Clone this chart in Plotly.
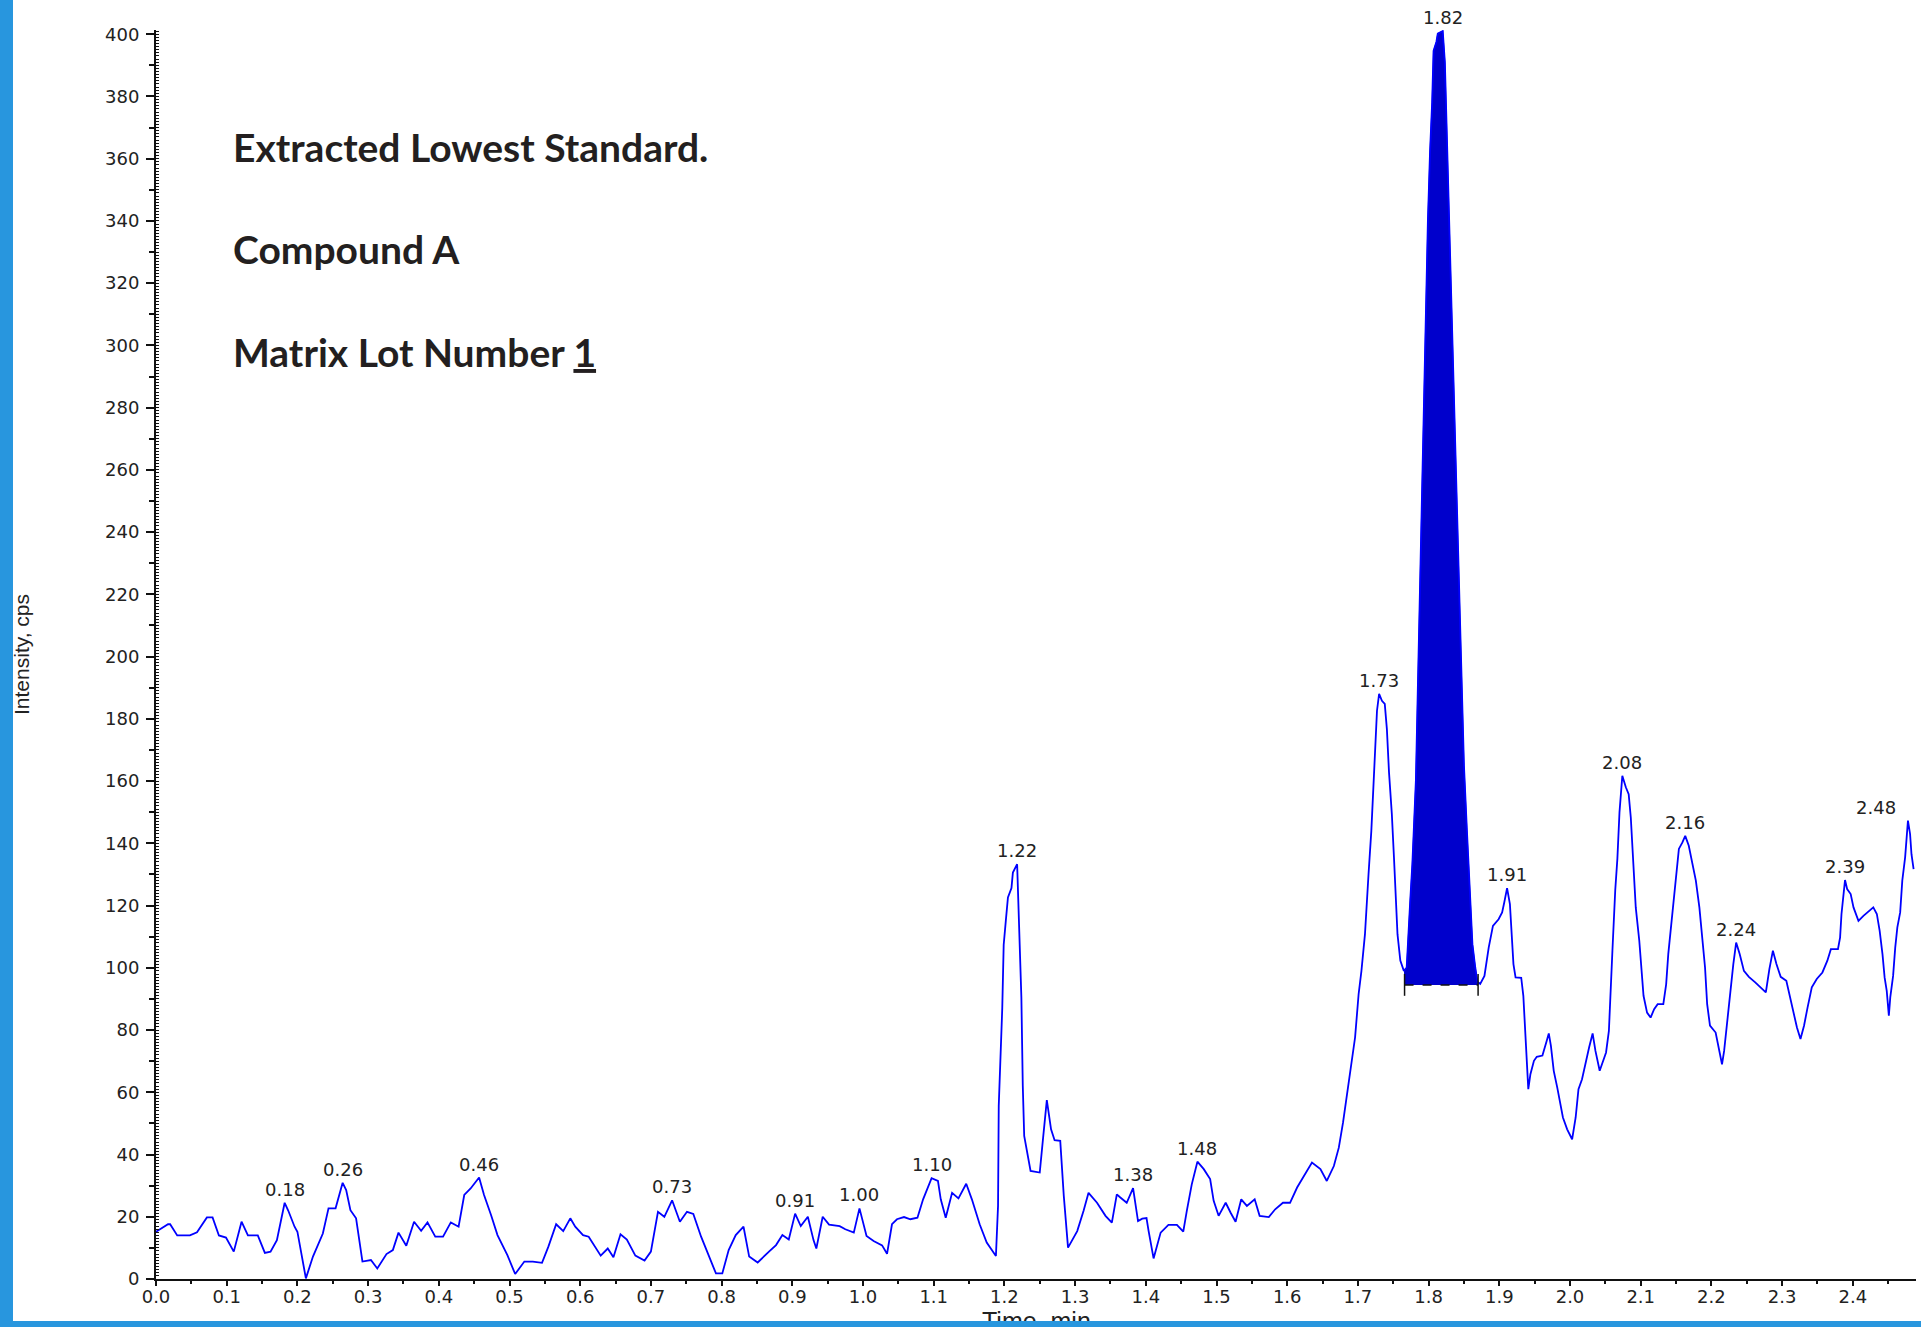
import numpy as np
import plotly.graph_objects as go

# ---------------- data ----------------
time_min = [
    0.000, 0.017, 0.020, 0.030, 0.048, 0.058, 0.072, 0.080, 0.089, 0.099,
    0.110, 0.121, 0.130, 0.144, 0.154, 0.162, 0.171, 0.182, 0.187, 0.196,
    0.200, 0.212, 0.222, 0.231, 0.236, 0.244, 0.254, 0.264, 0.269, 0.275,
    0.283, 0.292, 0.304, 0.313, 0.326, 0.335, 0.343, 0.354, 0.365, 0.375,
    0.384, 0.395, 0.406, 0.417, 0.428, 0.436, 0.445, 0.457, 0.464, 0.474,
    0.483, 0.497, 0.508, 0.521, 0.533, 0.546, 0.555, 0.566, 0.576, 0.586,
    0.593, 0.604, 0.612, 0.629, 0.639, 0.647, 0.657, 0.666, 0.678, 0.691,
    0.700, 0.710, 0.719, 0.730, 0.741, 0.751, 0.760, 0.771, 0.782, 0.792,
    0.801, 0.810, 0.820, 0.831, 0.839, 0.851, 0.867, 0.877, 0.886, 0.895,
    0.904, 0.912, 0.922, 0.930, 0.934, 0.943, 0.952, 0.967, 0.975, 0.982,
    0.987, 0.995, 1.005, 1.015, 1.027, 1.034, 1.041, 1.048, 1.058, 1.067,
    1.077, 1.085, 1.097, 1.106, 1.110, 1.117, 1.126, 1.135, 1.146, 1.154,
    1.165, 1.175, 1.188, 1.191, 1.192, 1.197, 1.199, 1.202, 1.205, 1.210,
    1.212, 1.218, 1.220, 1.224, 1.226, 1.228, 1.237, 1.250, 1.255, 1.260,
    1.266, 1.271, 1.279, 1.284, 1.290, 1.303, 1.312, 1.319, 1.331, 1.343,
    1.352, 1.359, 1.364, 1.373, 1.382, 1.389, 1.395, 1.401, 1.404, 1.411,
    1.421, 1.432, 1.444, 1.453, 1.458, 1.465, 1.473, 1.482, 1.491, 1.496,
    1.503, 1.513, 1.520, 1.527, 1.535, 1.543, 1.554, 1.561, 1.574, 1.583,
    1.594, 1.604, 1.614, 1.626, 1.635, 1.647, 1.656, 1.666, 1.673, 1.679,
    1.685, 1.689, 1.696, 1.701, 1.705, 1.710, 1.712, 1.715, 1.719, 1.722,
    1.725, 1.727, 1.730, 1.734, 1.738, 1.741, 1.744, 1.748, 1.751, 1.753,
    1.756, 1.760, 1.765, 1.769, 1.772, 1.774, 1.777, 1.780, 1.782, 1.784,
    1.787, 1.790, 1.793, 1.796, 1.799, 1.802, 1.805, 1.807, 1.811, 1.813,
    1.820, 1.823, 1.825, 1.828, 1.831, 1.835, 1.839, 1.842, 1.844, 1.847,
    1.850, 1.854, 1.857, 1.860, 1.862, 1.866, 1.869, 1.873, 1.879, 1.885,
    1.891, 1.899, 1.904, 1.907, 1.911, 1.915, 1.918, 1.920, 1.923, 1.931,
    1.934, 1.937, 1.939, 1.941, 1.944, 1.949, 1.953, 1.961, 1.967, 1.970,
    1.973, 1.977, 1.982, 1.986, 1.990, 1.996, 2.003, 2.008, 2.012, 2.017,
    2.023, 2.027, 2.032, 2.036, 2.042, 2.047, 2.051, 2.055, 2.057, 2.060,
    2.064, 2.067, 2.070, 2.074, 2.079, 2.083, 2.086, 2.090, 2.093, 2.098,
    2.101, 2.104, 2.109, 2.114, 2.119, 2.124, 2.132, 2.136, 2.139, 2.143,
    2.146, 2.150, 2.154, 2.159, 2.163, 2.168, 2.172, 2.178, 2.183, 2.186,
    2.191, 2.194, 2.198, 2.206, 2.210, 2.215, 2.218, 2.221, 2.224, 2.228,
    2.231, 2.235, 2.240, 2.246, 2.253, 2.262, 2.270, 2.277, 2.282, 2.287,
    2.292, 2.298, 2.306, 2.311, 2.316, 2.321, 2.326, 2.331, 2.336, 2.342,
    2.349, 2.357, 2.364, 2.369, 2.379, 2.382, 2.384, 2.389, 2.392, 2.397,
    2.401, 2.408, 2.415, 2.423, 2.429, 2.434, 2.438, 2.442, 2.445, 2.448,
    2.451, 2.453, 2.457, 2.460, 2.463, 2.467, 2.470, 2.474, 2.478, 2.481,
    2.483, 2.486,
]

intensity_cps = [
    15.2, 17.6, 17.6, 14.0, 14.0, 15.0, 19.8, 19.8, 14.0, 13.3,
    8.8, 18.4, 14.0, 14.0, 8.4, 8.8, 12.5, 24.5, 22.0, 16.8,
    15.2, 0.2, 7.2, 12.0, 14.6, 22.7, 22.7, 30.9, 28.6, 22.1,
    19.5, 5.6, 6.1, 3.4, 8.0, 9.3, 14.9, 10.7, 18.4, 15.5,
    18.2, 13.6, 13.6, 18.2, 16.8, 27.0, 29.1, 32.6, 27.0, 20.5,
    14.1, 7.7, 1.6, 5.6, 5.6, 5.2, 10.4, 17.6, 15.4, 19.5,
    16.8, 14.1, 13.6, 7.5, 9.8, 7.0, 14.4, 12.7, 7.5, 5.9,
    8.8, 21.6, 20.0, 25.3, 18.4, 21.6, 20.9, 13.6, 7.2, 1.8,
    1.8, 9.3, 14.1, 16.8, 7.2, 5.3, 8.8, 10.9, 14.1, 12.7,
    21.0, 17.0, 20.0, 12.5, 9.8, 20.0, 17.5, 17.0, 16.0, 15.4,
    14.9, 22.7, 13.8, 12.2, 10.8, 8.1, 17.6, 19.2, 19.9, 19.2,
    19.7, 25.6, 32.4, 31.5, 25.6, 19.7, 27.7, 25.9, 30.6, 25.6,
    17.6, 11.7, 7.4, 23.5, 55.6, 87.2, 107.4, 115.1, 122.6, 125.6,
    130.6, 133.3, 119.4, 90.5, 62.1, 46.0, 34.7, 34.2, 46.0, 57.5,
    48.1, 44.6, 44.4, 26.7, 10.1, 15.4, 21.9, 27.7, 24.5, 20.3,
    18.1, 27.2, 26.2, 24.5, 29.2, 18.6, 19.4, 19.6, 15.4, 6.6,
    14.9, 17.4, 17.4, 15.2, 21.9, 30.4, 37.7, 35.3, 32.1, 25.1,
    20.3, 24.5, 21.3, 18.4, 25.6, 23.5, 25.6, 20.3, 19.9, 22.4,
    24.5, 24.5, 29.4, 34.2, 37.4, 35.3, 31.5, 36.3, 42.2, 50.3,
    59.4, 65.8, 77.6, 91.5, 99.0, 110.8, 119.4, 130.0, 144.0, 158.0,
    169.8, 182.6, 188.0, 185.8, 184.8, 176.7, 162.8, 149.4, 135.5, 123.7,
    110.8, 102.3, 99.0, 100.1, 110.8, 121.5, 133.3, 148.3, 160.1, 181.6,
    215.0, 245.0, 280.0, 312.0, 340.0, 362.0, 378.0, 394.6, 397.5, 400.2,
    401.0, 391.0, 374.5, 350.0, 322.0, 290.0, 255.0, 230.0, 218.0, 187.0,
    165.0, 145.0, 131.2, 118.3, 107.6, 100.1, 95.5, 94.8, 97.4, 106.5,
    113.5, 115.6, 117.8, 121.0, 125.6, 120.5, 110.8, 101.2, 96.9, 96.8,
    91.0, 78.7, 66.9, 61.0, 65.8, 70.1, 71.4, 71.8, 76.5, 78.9,
    74.9, 66.9, 61.5, 57.2, 51.9, 48.1, 44.9, 51.9, 61.0, 64.2,
    70.6, 74.4, 78.9, 73.3, 66.9, 70.1, 72.8, 79.7, 92.6, 105.5,
    125.0, 135.0, 150.0, 161.7, 158.0, 155.8, 148.3, 133.3, 119.4, 108.7,
    100.1, 91.0, 85.6, 84.0, 86.7, 88.3, 88.3, 94.7, 104.4, 113.0,
    121.5, 130.0, 138.2, 140.3, 142.4, 139.2, 134.9, 128.0, 119.4, 111.4,
    100.1, 88.3, 81.4, 79.2, 74.4, 69.0, 73.3, 79.7, 88.3, 94.7,
    101.2, 108.1, 104.4, 99.0, 97.1, 95.3, 93.7, 92.1, 99.6, 105.5,
    101.2, 97.1, 95.8, 90.5, 85.1, 80.8, 77.1, 81.4, 87.2, 93.7,
    96.4, 98.5, 102.3, 106.0, 106.0, 109.7, 117.3, 128.2, 125.3, 123.7,
    119.4, 115.1, 116.7, 118.3, 119.4, 117.3, 111.9, 104.4, 96.9, 92.6,
    84.6, 90.5, 97.4, 106.5, 113.0, 117.8, 128.0, 135.5, 147.3, 143.0,
    136.5, 131.7,
]

# labelled apexes (retention time text, apex position)
peak_labels = ["0.18", "0.26", "0.46", "0.73", "0.91", "1.00", "1.10", "1.22", "1.38",
               "1.48", "1.73", "1.82", "1.91", "2.08", "2.16", "2.24", "2.39", "2.48"]
peak_time = [0.182, 0.264, 0.457, 0.730, 0.904, 0.995, 1.097, 1.218, 1.382,
             1.473, 1.730, 1.820, 1.911, 2.074, 2.163, 2.235, 2.389, 2.478]
peak_height = [24.5, 30.9, 32.6, 25.3, 21.0, 22.7, 32.4, 133.3, 29.2,
               37.7, 188.0, 401.0, 125.6, 161.7, 142.4, 108.1, 128.2, 147.3]

# integrated peak
integration_start = 1.766
integration_end = 1.870
integration_baseline = 94.5
baseline_marker_low = 91.0
baseline_marker_high = 98.0

info_lines = ["Extracted Lowest Standard.", "Compound A", "Matrix Lot Number <u>1</u>"]

# ---------------- figure ----------------
W, H = 1921, 1321
ML, MR, MT, MB = 156, 5, 30, 42
PX_PER_MIN = 707.0
PX_PER_CPS = 3.112
PW, PH = W - ML - MR, H - MT - MB
x_max = PW / PX_PER_MIN
y_max = PH / PX_PER_CPS

t = np.array(time_min)
v = np.array(intensity_cps)
mask = (t > integration_start) & (t < integration_end)
v_start = float(np.interp(integration_start, t, v))
v_end = float(np.interp(integration_end, t, v))
fill_x = [integration_start, integration_start] + list(t[mask]) + [integration_end, integration_end]
fill_y = [integration_baseline, v_start] + list(v[mask]) + [v_end, integration_baseline]

fig = go.Figure()
fig.add_trace(go.Scatter(x=fill_x, y=fill_y, fill="toself", fillcolor="#0000CC",
                         mode="lines", line=dict(color="#0000CC", width=1),
                         hoverinfo="skip", showlegend=False))
fig.add_trace(go.Scatter(x=time_min, y=intensity_cps, mode="lines",
                         line=dict(color="#0000FF", width=1.8),
                         showlegend=False))
fig.add_trace(go.Scatter(
    x=[integration_start, integration_end],
    y=[integration_baseline, integration_baseline],
    mode="lines", line=dict(color="#111111", width=1.5, dash="dash"),
    hoverinfo="skip", showlegend=False))
fig.add_trace(go.Scatter(
    x=[integration_start, integration_start, None, integration_end, integration_end],
    y=[baseline_marker_low, baseline_marker_high, None, baseline_marker_low, baseline_marker_high],
    mode="lines", line=dict(color="#111111", width=1.5),
    hoverinfo="skip", showlegend=False))
# carrier for the fine "ruler" ticks on the intensity axis
fig.add_trace(go.Scatter(x=[None], y=[None], yaxis="y2", showlegend=False, hoverinfo="skip"))

tick_font = dict(family="DejaVu Sans", size=18, color="#222222")

for lab, px_, py_ in zip(peak_labels, peak_time, peak_height):
    right_edge = px_ > 2.45
    fig.add_annotation(x=px_, y=py_, text=lab, showarrow=False,
                       xanchor="right" if right_edge else "center",
                       xshift=-10 if right_edge else 0,
                       yanchor="bottom", yshift=1, font=tick_font)

line_y_px = [147, 249, 352]
for txt, ypx in zip(info_lines, line_y_px):
    fig.add_annotation(xref="paper", yref="paper",
                       x=(231 - ML) / PW,
                       y=(H - MB - ypx) / PH,
                       xanchor="left", yanchor="middle", showarrow=False,
                       text="<b>" + txt + "</b>",
                       font=dict(family="Lato", size=39, color="#231F20"))

# x-axis title (partly hidden by the page's bottom band, as in the source)
fig.add_annotation(xref="paper", yref="paper", x=0.5, y=-(1305 - (H - MB)) / PH,
                   xanchor="center", yanchor="top", showarrow=False,
                   text="Time, min",
                   font=dict(family="Liberation Sans", size=25, color="#222222"))

fig.update_layout(
    width=W, height=H,
    margin=dict(l=ML, r=MR, t=MT, b=MB, autoexpand=False),
    paper_bgcolor="white", plot_bgcolor="white",
    showlegend=False,
    xaxis=dict(range=[0, x_max], dtick=0.1, tick0=0, tickformat=".1f", automargin=False,
               showline=True, linecolor="#111111", linewidth=2,
               ticks="outside", ticklen=5, tickwidth=1.5, tickcolor="#111111",
               minor=dict(dtick=0.05, ticks="outside", ticklen=3, tickwidth=1.5, tickcolor="#111111"),
               showgrid=False, zeroline=False, tickfont=tick_font, ticklabelstandoff=-5),
    yaxis=dict(range=[0, y_max], dtick=20, tick0=0, automargin=False,
               showline=True, linecolor="#111111", linewidth=2,
               ticks="outside", ticklen=8, tickwidth=1.5, tickcolor="#111111",
               minor=dict(dtick=10, ticks="outside", ticklen=5, tickwidth=1.5, tickcolor="#111111"),
               showgrid=False, zeroline=False, tickfont=tick_font, ticklabelstandoff=3,
               title=dict(text="Intensity, cps", standoff=70,
                          font=dict(family="Liberation Sans Narrow, Liberation Sans", size=21, color="#222222"))),
    yaxis2=dict(range=[0, y_max], overlaying="y", side="left", dtick=1, tick0=0, automargin=False,
                ticks="inside", ticklen=3, tickwidth=1, tickcolor="#111111",
                showticklabels=False, showline=False, showgrid=False, zeroline=False),
    shapes=[dict(type="rect", xref="paper", yref="paper",
                 x0=-ML / PW, x1=(13 - ML) / PW,
                 y0=-MB / PH - 0.01, y1=1 + MT / PH + 0.01,
                 fillcolor="#2896DE", line=dict(width=0), layer="above")],
)

fig.write_html("out.html", config={"displayModeBar": False},
               post_script="document.body.style.margin='0';document.body.style.background='#2896DE';document.body.style.overflow='hidden';")
